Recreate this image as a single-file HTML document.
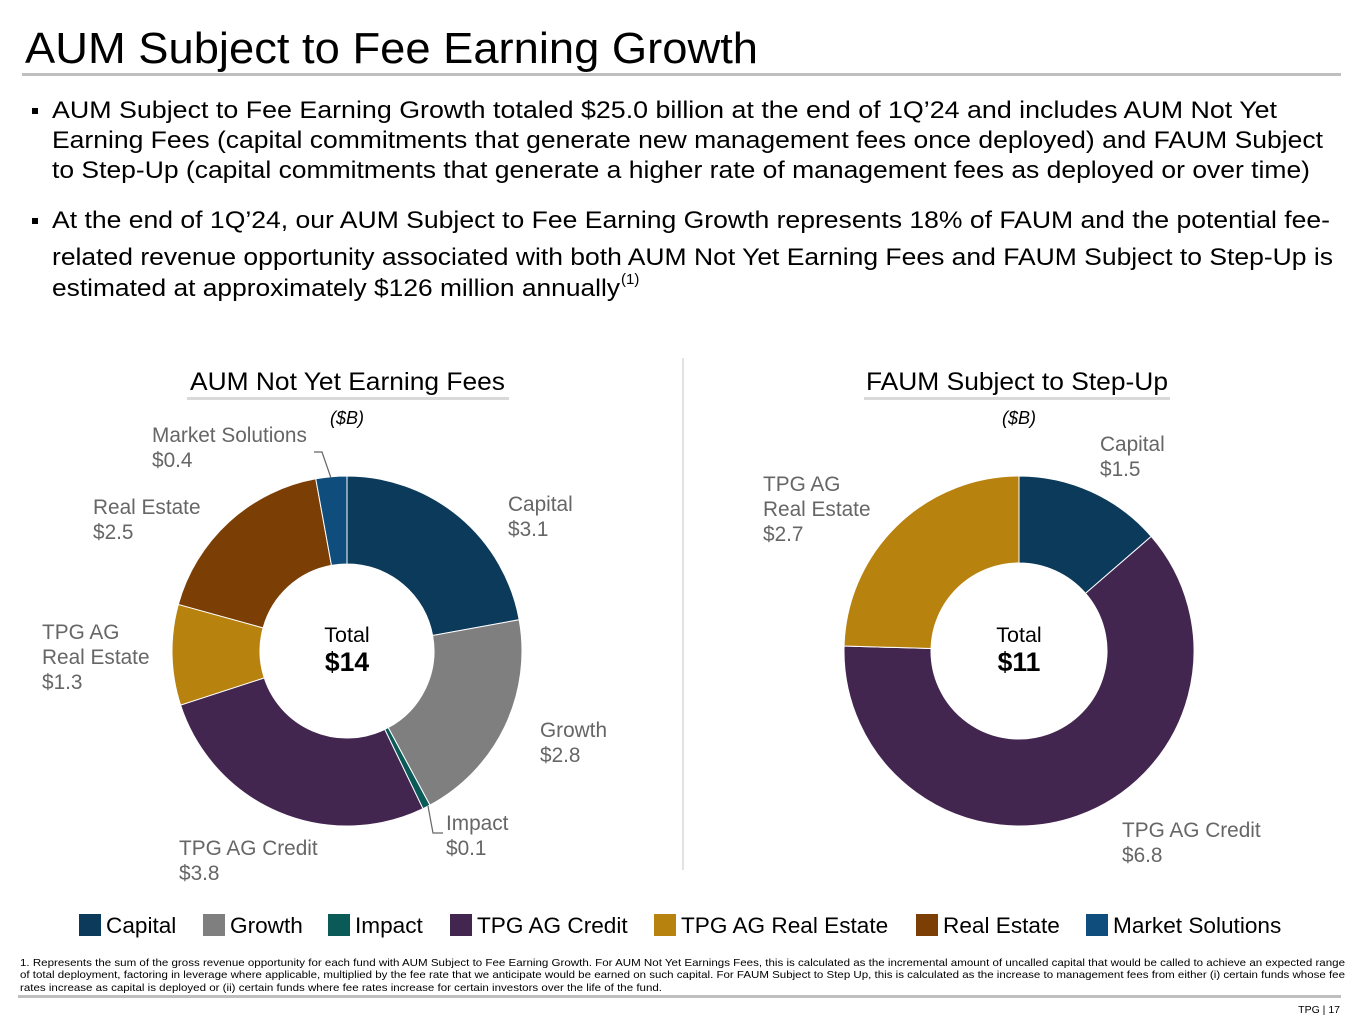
<!DOCTYPE html>
<html><head><meta charset="utf-8"><style>
html,body{margin:0;padding:0;background:#fff;}
svg{display:block;font-family:"Liberation Sans",Arial,sans-serif;}
</style></head><body>
<svg id="s" width="1365" height="1024" viewBox="0 0 1365 1024">
<text x="25" y="63" font-size="44" fill="#000" textLength="733" lengthAdjust="spacingAndGlyphs">AUM Subject to Fee Earning Growth</text>
<rect x="22" y="73" width="1319" height="3" fill="#bfbfbf"/>
<g font-size="24.5" fill="#000">
<rect x="32" y="108" width="6" height="6" fill="#000"/>
<text x="52" y="118" textLength="1225" lengthAdjust="spacingAndGlyphs">AUM Subject to Fee Earning Growth totaled $25.0 billion at the end of 1Q’24 and includes AUM Not Yet</text>
<text x="52" y="148" textLength="1271" lengthAdjust="spacingAndGlyphs">Earning Fees (capital commitments that generate new management fees once deployed) and FAUM Subject</text>
<text x="52" y="178" textLength="1258" lengthAdjust="spacingAndGlyphs">to Step-Up (capital commitments that generate a higher rate of management fees as deployed or over time)</text>
<rect x="32" y="218" width="6" height="6" fill="#000"/>
<text x="52" y="228" textLength="1278" lengthAdjust="spacingAndGlyphs">At the end of 1Q’24, our AUM Subject to Fee Earning Growth represents 18% of FAUM and the potential fee-</text>
<text x="52" y="265" textLength="1281" lengthAdjust="spacingAndGlyphs">related revenue opportunity associated with both AUM Not Yet Earning Fees and FAUM Subject to Step-Up is</text>
<text x="52" y="296" textLength="568" lengthAdjust="spacingAndGlyphs">estimated at approximately $126 million annually</text>
<text x="621" y="284" font-size="15">(1)</text>
</g>
<line x1="683" y1="358" x2="683" y2="870" stroke="#d9d9d9" stroke-width="1.5"/>
<text x="190" y="390" font-size="25" textLength="315" lengthAdjust="spacingAndGlyphs">AUM Not Yet Earning Fees</text>
<rect x="187" y="397" width="322" height="3" fill="#d9d9d9"/>
<text x="347" y="424" font-size="18" font-style="italic" text-anchor="middle">($B)</text>
<text x="866" y="390" font-size="25" textLength="302" lengthAdjust="spacingAndGlyphs">FAUM Subject to Step-Up</text>
<rect x="864" y="397" width="306" height="3" fill="#d9d9d9"/>
<text x="1019" y="424" font-size="18" font-style="italic" text-anchor="middle">($B)</text>
<g id="left"></g>
<g id="right"></g>
<g font-size="20.8" fill="#666">
<text x="508" y="511"><tspan x="508">Capital</tspan><tspan x="508" dy="25">$3.1</tspan></text>
<text x="540" y="737"><tspan x="540">Growth</tspan><tspan x="540" dy="25">$2.8</tspan></text>
<text x="446" y="830"><tspan x="446">Impact</tspan><tspan x="446" dy="25">$0.1</tspan></text>
<text x="179" y="855"><tspan x="179">TPG AG Credit</tspan><tspan x="179" dy="25">$3.8</tspan></text>
<text x="42" y="639"><tspan x="42">TPG AG</tspan><tspan x="42" dy="25">Real Estate</tspan><tspan x="42" dy="25">$1.3</tspan></text>
<text x="93" y="514"><tspan x="93">Real Estate</tspan><tspan x="93" dy="25">$2.5</tspan></text>
<text x="152" y="442"><tspan x="152">Market Solutions</tspan><tspan x="152" dy="25">$0.4</tspan></text>
<text x="1100" y="451"><tspan x="1100">Capital</tspan><tspan x="1100" dy="25">$1.5</tspan></text>
<text x="1122" y="837"><tspan x="1122">TPG AG Credit</tspan><tspan x="1122" dy="25">$6.8</tspan></text>
<text x="763" y="491"><tspan x="763">TPG AG</tspan><tspan x="763" dy="25">Real Estate</tspan><tspan x="763" dy="25">$2.7</tspan></text>
</g>
<polyline points="428,806 433,833 443,833" fill="none" stroke="#666" stroke-width="1.2"/>
<polyline points="331,478 322,452 314,452" fill="none" stroke="#666" stroke-width="1.2"/>
<text x="347" y="642" font-size="21.5" text-anchor="middle">Total</text>
<text x="347" y="671" font-size="26.5" font-weight="bold" text-anchor="middle">$14</text>
<text x="1019" y="642" font-size="21.5" text-anchor="middle">Total</text>
<text x="1019" y="671" font-size="26.5" font-weight="bold" text-anchor="middle">$11</text>
<g id="legend" font-size="22.6" fill="#000"></g>
<g font-size="10.5" fill="#000">
<text x="20" y="966" textLength="1325" lengthAdjust="spacingAndGlyphs">1. Represents the sum of the gross revenue opportunity for each fund with AUM Subject to Fee Earning Growth. For AUM Not Yet Earnings Fees, this is calculated as the incremental amount of uncalled capital that would be called to achieve an expected range</text>
<text x="20" y="978" textLength="1325" lengthAdjust="spacingAndGlyphs">of total deployment, factoring in leverage where applicable, multiplied by the fee rate that we anticipate would be earned on such capital. For FAUM Subject to Step Up, this is calculated as the increase to management fees from either (i) certain funds whose fee</text>
<text x="20" y="991" textLength="642" lengthAdjust="spacingAndGlyphs">rates increase as capital is deployed or (ii) certain funds where fee rates increase for certain investors over the life of the fund.</text>
</g>
<rect x="18" y="995" width="1323" height="3" fill="#bfbfbf"/>
<text x="1340" y="1013" font-size="10.5" text-anchor="end">TPG | 17</text>
</svg>
<script>
const leftCategories = ["Capital","Growth","Impact","TPG AG Credit","TPG AG Real Estate","Real Estate","Market Solutions"];
const leftValues = [3.1, 2.8, 0.1, 3.8, 1.3, 2.5, 0.4];
const leftColors = ["#0b3a5b","#7f7f7f","#0a5a57","#432650","#b8820f","#7b3f05","#0f4d7c"];
const rightCategories = ["Capital","TPG AG Credit","TPG AG Real Estate"];
const rightValues = [1.5, 6.8, 2.7];
const rightColors = ["#0b3a5b","#432650","#b8820f"];
const legendLabels = ["Capital","Growth","Impact","TPG AG Credit","TPG AG Real Estate","Real Estate","Market Solutions"];
const legendColors = ["#0b3a5b","#7f7f7f","#0a5a57","#432650","#b8820f","#7b3f05","#0f4d7c"];
const NS="http://www.w3.org/2000/svg";
function pt(cx,cy,r,a){return [cx+r*Math.sin(a), cy-r*Math.cos(a)];}
function donut(g,cx,cy,R,r,vals,cols,cats){
  const tot=vals.reduce((a,b)=>a+b,0); let a0=0;
  vals.forEach((v,i)=>{
    const a1=a0+v/tot*2*Math.PI, lg=(a1-a0)>Math.PI?1:0;
    const [x0,y0]=pt(cx,cy,R,a0),[x1,y1]=pt(cx,cy,R,a1),[x2,y2]=pt(cx,cy,r,a1),[x3,y3]=pt(cx,cy,r,a0);
    const p=document.createElementNS(NS,"path");
    p.setAttribute("d",`M${x0},${y0}A${R},${R} 0 ${lg} 1 ${x1},${y1}L${x2},${y2}A${r},${r} 0 ${lg} 0 ${x3},${y3}Z`);
    p.setAttribute("fill",cols[i]); p.setAttribute("stroke","#fff"); p.setAttribute("stroke-width","1");
    
    
    g.appendChild(p); a0=a1;
  });
}
donut(document.getElementById("left"),347,651,175,87,leftValues,leftColors,leftCategories);
donut(document.getElementById("right"),1019,651,175,88,rightValues,rightColors,rightCategories);
const lg=document.getElementById("legend");
const lx=[79,203,328,450,654,916,1086];
legendLabels.forEach((l,i)=>{
  const r=document.createElementNS(NS,"rect");
  r.setAttribute("x",lx[i]);r.setAttribute("y",914);r.setAttribute("width",22);r.setAttribute("height",22);r.setAttribute("fill",legendColors[i]);
  
  
  lg.appendChild(r);
  const t=document.createElementNS(NS,"text");
  t.setAttribute("x",lx[i]+27);t.setAttribute("y",933);t.textContent=l;
  
  
  lg.appendChild(t);
});
</script>
</body></html>
